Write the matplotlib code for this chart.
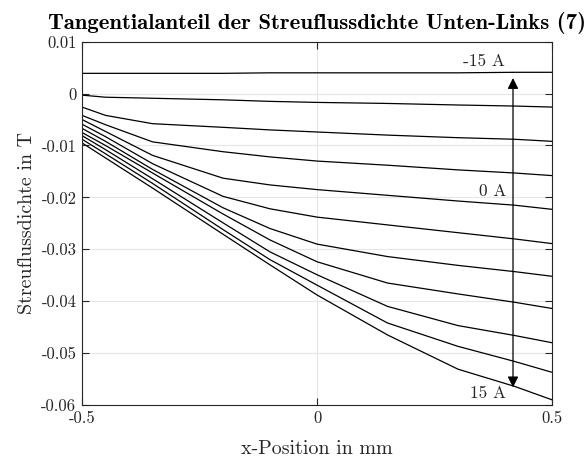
import numpy as np
import matplotlib
matplotlib.use('Agg')
from matplotlib import pyplot as plt

plt.rcParams['font.family'] = ['cmr10', 'DejaVu Serif']
plt.rcParams['mathtext.fontset'] = 'cm'
plt.rcParams['axes.unicode_minus'] = False

# x-Positionen der Stuetzstellen (mm)
x = [-0.5, -0.45, -0.35, -0.2, -0.1, 0.0, 0.15, 0.3, 0.42, 0.5]

# Streuflussdichte (T) fuer -15 A ... 15 A in 3-A-Schritten
b_m15 = [0.0039, 0.0039, 0.0039, 0.0039, 0.0040, 0.0040, 0.0040, 0.0040, 0.0041, 0.0041]
b_m12 = [-0.0003, -0.0007, -0.0009, -0.0012, -0.0015, -0.0017, -0.0019, -0.0022, -0.0024, -0.0026]
b_m9 = [-0.0026, -0.0042, -0.0058, -0.0065, -0.0070, -0.0074, -0.0080, -0.0085, -0.0088, -0.0092]
b_m6 = [-0.0042, -0.0060, -0.0093, -0.0112, -0.0122, -0.0130, -0.0138, -0.0147, -0.0153, -0.0158]
b_m3 = [-0.0050, -0.0073, -0.0119, -0.0163, -0.0176, -0.0185, -0.0196, -0.0207, -0.0215, -0.0223]
b_0 = [-0.0059, -0.0083, -0.0135, -0.0198, -0.0222, -0.0238, -0.0253, -0.0268, -0.0280, -0.0289]
b_3 = [-0.0067, -0.0092, -0.0146, -0.0220, -0.0260, -0.0290, -0.0314, -0.0331, -0.0343, -0.0352]
b_6 = [-0.0075, -0.0100, -0.0153, -0.0232, -0.0282, -0.0324, -0.0365, -0.0386, -0.0402, -0.0414]
b_9 = [-0.0081, -0.0108, -0.0164, -0.0249, -0.0305, -0.0349, -0.0410, -0.0447, -0.0466, -0.0480]
b_12 = [-0.0088, -0.0116, -0.0173, -0.0262, -0.0320, -0.0369, -0.0442, -0.0487, -0.0516, -0.0537]
b_15 = [-0.0095, -0.0124, -0.0182, -0.0271, -0.0330, -0.0388, -0.0465, -0.0531, -0.0564, -0.0590]

kurven = [b_m15, b_m12, b_m9, b_m6, b_m3, b_0, b_3, b_6, b_9, b_12, b_15]

yticks = [0.01, 0, -0.01, -0.02, -0.03, -0.04, -0.05, -0.06]
ytick_labels = ['0.01', '0', '-0.01', '-0.02', '-0.03', '-0.04', '-0.05', '-0.06']
xticks = [-0.5, 0, 0.5]
xtick_labels = ['-0.5', '0', '0.5']

fig = plt.figure(figsize=(5.88, 4.58), dpi=100)
ax = fig.add_axes([0.1395, 0.1157, 0.7993, 0.7933])

for b in kurven:
    ax.plot(x, b, color='black', linewidth=0.9)

ax.set_xlim(-0.5, 0.5)
ax.set_ylim(-0.06, 0.01)
ax.set_xticks(xticks)
ax.set_xticklabels(xtick_labels)
ax.set_yticks(yticks)
ax.set_yticklabels(ytick_labels)
ax.grid(True, color='#e6e6e6', linewidth=0.8)
ax.set_axisbelow(True)
ax.tick_params(direction='in', length=5, width=0.8, top=True, right=True,
               labelsize=12, colors='#262626', pad=4)
for s in ax.spines.values():
    s.set_color('#262626')
    s.set_linewidth(0.8)

ax.set_xlabel('x-Position in mm', fontsize=14.4, color='#262626', labelpad=10)
ax.set_ylabel('Streuflussdichte in T', fontsize=14.4, color='#262626', labelpad=4)
ax.set_title('Tangentialanteil der Streuflussdichte Unten-Links (7)',
             fontsize=16.4, family='cmb10', pad=9)

# Pfeil fuer die Stromrichtung
ax.annotate('', xy=(0.417, 0.0030), xytext=(0.417, -0.0566),
            arrowprops=dict(arrowstyle='<|-|>', color='black', lw=0.9,
                            mutation_scale=16, shrinkA=0, shrinkB=0))
ax.text(0.400, 0.0062, '-15 A', ha='right', va='center', fontsize=12.5, color='#262626')
ax.text(0.402, -0.0188, '0 A', ha='right', va='center', fontsize=12.5, color='#262626')
ax.text(0.402, -0.0578, '15 A', ha='right', va='center', fontsize=12.5, color='#262626')

fig.savefig('out.png', dpi=100)
